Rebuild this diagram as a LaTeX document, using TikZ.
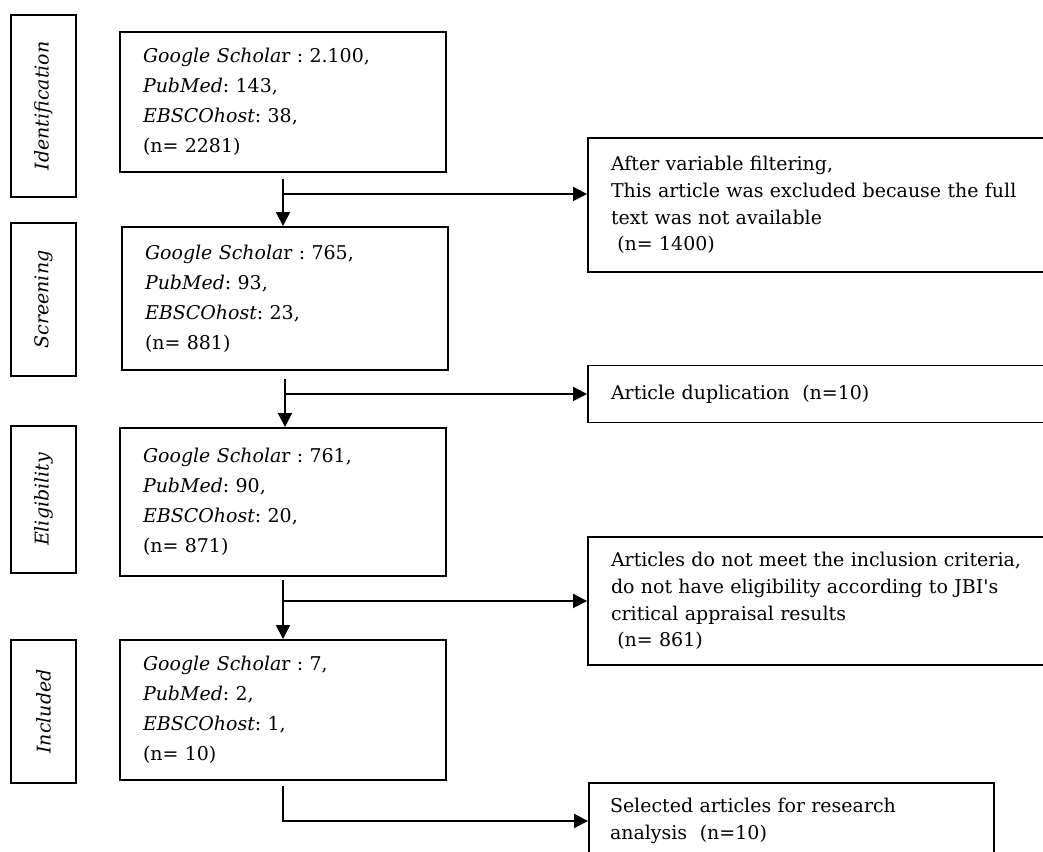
\documentclass[tikz,border=0pt]{standalone}
\usepackage{fontspec}
\setmainfont{DejaVu Serif}
\usetikzlibrary{arrows.meta,positioning}
\frenchspacing

\begin{document}
\begin{tikzpicture}[
  >={Triangle[length=0.28cm, width=0.28cm]},
  stage/.style={draw, line width=1.1pt, rotate=90, minimum height=1.3cm, font=\fontsize{10.8}{13}\selectfont\itshape},
  srcbox/.style={draw, line width=1.1pt, text width=5.6cm, inner xsep=0.46cm, align=left, font=\fontsize{10.8}{17}\selectfont},
  outbox/.style={draw, line width=1.1pt, text width=9.5cm, inner xsep=0.46cm, align=left, font=\fontsize{10.8}{15.2}\selectfont},
  arr/.style={->, line width=1.1pt},
]
\useasboundingbox (0,0) rectangle (20.86,17.04);
\clip (0,0) rectangle (20.86,17.04);

% stage labels
\node[stage, minimum width=3.64cm] (ident) at (0.87, 14.92) {Identification};
\node[stage, minimum width=3.06cm] (screen) at (0.87, 11.05) {Screening};
\node[stage, minimum width=2.94cm] (elig) at (0.87, 7.05) {Eligibility};
\node[stage, minimum width=2.86cm] (incl) at (0.87, 2.81) {Included};

% database counts
\node[srcbox, minimum height=2.8cm] (src1) at (5.66, 15.0) {\textit{Google Schola}r : 2.100,\\ \textit{PubMed}: 143,\\ \textit{EBSCOhost}: 38,\\ (n= 2281)};
\node[srcbox, minimum height=2.86cm] (src2) at (5.70, 11.07) {\textit{Google Schola}r : 765,\\ \textit{PubMed}: 93,\\ \textit{EBSCOhost}: 23,\\ (n= 881)};
\node[srcbox, minimum height=2.96cm] (src3) at (5.66, 7.0) {\textit{Google Schola}r : 761,\\ \textit{PubMed}: 90,\\ \textit{EBSCOhost}: 20,\\ (n= 871)};
\node[srcbox, minimum height=2.8cm] (src4) at (5.66, 2.84) {\textit{Google Schola}r : 7,\\ \textit{PubMed}: 2,\\ \textit{EBSCOhost}: 1,\\ (n= 10)};

% excluded / result boxes
\node[outbox, minimum height=2.68cm] (out1) at (16.97, 12.94) {After variable filtering,\\ This article was excluded because the full\\ text was not available\\ \ (n= 1400)};
\node[outbox, minimum height=1.14cm] (out2) at (16.97, 9.16) {Article duplication~ (n=10)};
\node[outbox, minimum height=2.56cm] (out3) at (16.97, 5.02) {Articles do not meet the inclusion criteria,\\ do not have eligibility according to JBI\textquotesingle s\\ critical appraisal results\\ \ (n= 861)};
\node[outbox, text width=7.26cm, inner xsep=0.42cm, minimum height=1.52cm] (out4) at (15.83, 0.62) {Selected articles for research\\ analysis~ (n=10)};

\coordinate (b1) at ([yshift=0.22cm]out1.west);

\draw[arr] ([yshift=-0.12cm]src1.south) -- (src1.south |- src2.north);
\draw[arr] (src1.south |- b1) -- (b1);
\draw[arr] ([yshift=-0.16cm]src2.south) -- (src2.south |- src3.north);
\draw[arr] (src2.south |- out2.west) -- (out2.west);
\draw[arr] ([yshift=-0.06cm]src3.south) -- (src3.south |- src4.north);
\draw[arr] (src3.south |- out3.west) -- (out3.west);
\draw[arr] ([yshift=-0.1cm]src4.south) |- (out4.west);

\end{tikzpicture}
\end{document}
